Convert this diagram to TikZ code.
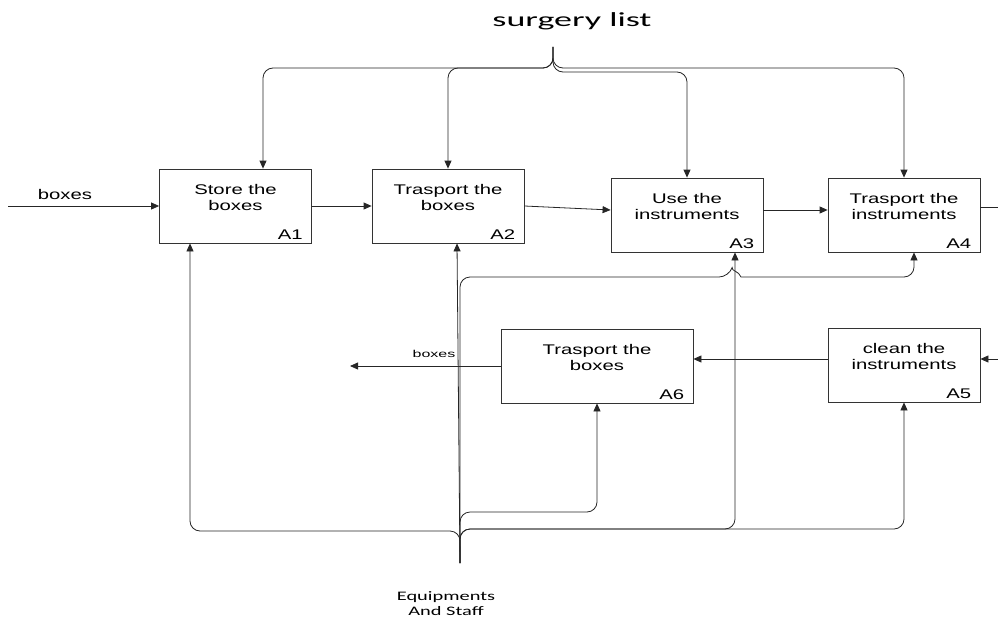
\documentclass[tikz,border=0pt]{standalone}
\usepackage{graphicx}
\usepackage{fontspec}
\setmainfont{Liberation Sans}
\newfontfamily\calfont{Carlito}
\usetikzlibrary{arrows.meta,calc}

% horizontally widened text
\newcommand{\wide}[2]{\scalebox{#1}[1]{#2}}
% two-line activity caption, baseline on the first line
\newcommand{\boxtext}[2]{\scalebox{1.45}[1]{\begin{tabular}[t]{@{}c@{}}#1\\#2\end{tabular}}}

\tikzset{
  box/.style={draw=black!80, line width=0.8pt, minimum width=152pt,
              minimum height=74pt, inner sep=0pt},
  boxlbl/.style={font=\fontsize{14}{15.5}\selectfont, anchor=base, inner sep=0pt},
  idlbl/.style={font=\fontsize{14}{15}\selectfont, anchor=base east, inner sep=0pt},
  arrowlbl/.style={font=\fontsize{14}{15}\selectfont, anchor=base, inner sep=0pt},
  smalllbl/.style={font=\fontsize{10}{12}\selectfont, anchor=base, inner sep=0pt},
  flow/.style={draw=black!85, line width=0.8pt, -{Triangle[length=8pt,width=7pt]}},
  plain/.style={draw=black!85, line width=0.8pt},
}

\begin{document}
\begin{tikzpicture}[x=1pt,y=-1pt]
\useasboundingbox (0,0) rectangle (998,618);

% activity boxes
\node[box] (A1) at (235.5,206) {};
\node[box] (A2) at (448,206) {};
\node[box] (A3) at (687,215) {};
\node[box] (A4) at (904,215) {};
\node[box] (A5) at (904,365) {};
\node[box, minimum width=192pt] (A6) at (597,366) {};

% captions
\node[boxlbl] (t1) at ($(A1.north)+(0,26)$) {\boxtext{Store the}{boxes}};
\node[boxlbl] (t2) at ($(A2.north)+(0,26)$) {\boxtext{Trasport the}{boxes}};
\node[boxlbl] (t3) at ($(A3.north)+(0,26)$) {\boxtext{Use the}{instruments}};
\node[boxlbl] (t4) at ($(A4.north)+(0,26)$) {\boxtext{Trasport the}{instruments}};
\node[boxlbl] (t5) at ($(A5.north)+(0,26)$) {\boxtext{clean the}{instruments}};
\node[boxlbl] (t6) at ($(A6.north)+(0,26)$) {\boxtext{Trasport the}{boxes}};

% activity numbers
\node[idlbl] (n1) at ($(A1.south east)+(-9,-4)$) {\wide{1.45}{A1}};
\node[idlbl] (n2) at ($(A2.south east)+(-9,-4)$) {\wide{1.45}{A2}};
\node[idlbl] (n3) at ($(A3.south east)+(-9,-4)$) {\wide{1.45}{A3}};
\node[idlbl] (n4) at ($(A4.south east)+(-9,-4)$) {\wide{1.45}{A4}};
\node[idlbl] (n5) at ($(A5.south east)+(-9,-4)$) {\wide{1.45}{A5}};
\node[idlbl] (n6) at ($(A6.south east)+(-9,-4)$) {\wide{1.45}{A6}};

% inputs and outputs
\coordinate (inA) at (8,206);
\draw[flow] (inA) -- (A1.west);
\node[arrowlbl] (boxesIn) at (65,199) {\wide{1.45}{boxes}};
\draw[flow] (A1.east) -- (A2.west);
\draw[flow] (A2.east) -- ($(A3.west)+(0,-5)$);
\draw[flow] ($(A3.east)+(0,-5)$) -- ($(A4.west)+(0,-5)$);
\coordinate (outA4) at (998,207);
\draw[plain] ($(A4.east)+(0,-8)$) -- (outA4);
\coordinate (inA5) at (998,359);
\draw[flow] (inA5) -- ($(A5.east)+(0,-6)$);
\draw[flow] ($(A5.west)+(0,-6)$) -- ($(A6.east)+(0,-7)$);
\coordinate (outA6) at (350,366);
\draw[flow] (A6.west) -- (outA6);
\node[smalllbl] (boxesOut) at (434,357) {\wide{1.6}{boxes}};

% controls
\coordinate (sl) at (553,47);
\node[font=\calfont\fontsize{20}{24}\selectfont, anchor=base, inner sep=0pt]
  (slist) at (572,27) {\wide{1.8}{surgery list}};
\draw[flow, rounded corners=10] (sl) -- (553,68) -- (263,68) -- ($(A1.north)+(27.5,0)$);
\draw[flow, rounded corners=10] (sl) -- (553,68) -- (448,68) -- (A2.north);
\draw[flow, rounded corners=10] (sl) -- (553,72) -- (687,72) -- (A3.north);
\draw[flow, rounded corners=10] (sl) -- (553,68) -- (904,68) -- (A4.north);

% mechanisms
\coordinate (es) at (460,563);
\node[font=\calfont\fontsize{13}{15}\selectfont, anchor=base, inner sep=0pt]
  (equip) at (446,600) {\wide{1.57}{\begin{tabular}[t]{@{}c@{}}Equipments\\And Staff\end{tabular}}};
\draw[flow] (es) -- ($(A2.south)+(9,0)$);
\draw[flow, rounded corners=10] (es) -- (460,531) -- (190,531) -- ($(A1.south)+(-45.5,0)$);
\draw[flow, rounded corners=10] (es) -- (460,512) -- (597,512) -- (A6.south);
\draw[flow, rounded corners=10] (es) -- (460,529) -- (735,529) -- ($(A3.south)+(48,0)$);
\draw[flow, rounded corners=10] (es) -- (460,529) -- (904,529) -- (A5.south);
\draw[flow] (es) [rounded corners=10] -- (460,277) -- (729,277) [sharp corners]
  .. controls (731,271) and (739,271) .. (741,277)
  -- (904,277) [rounded corners=10] -- (914,277) -- ($(A4.south)+(10,0)$);
\end{tikzpicture}
\end{document}
